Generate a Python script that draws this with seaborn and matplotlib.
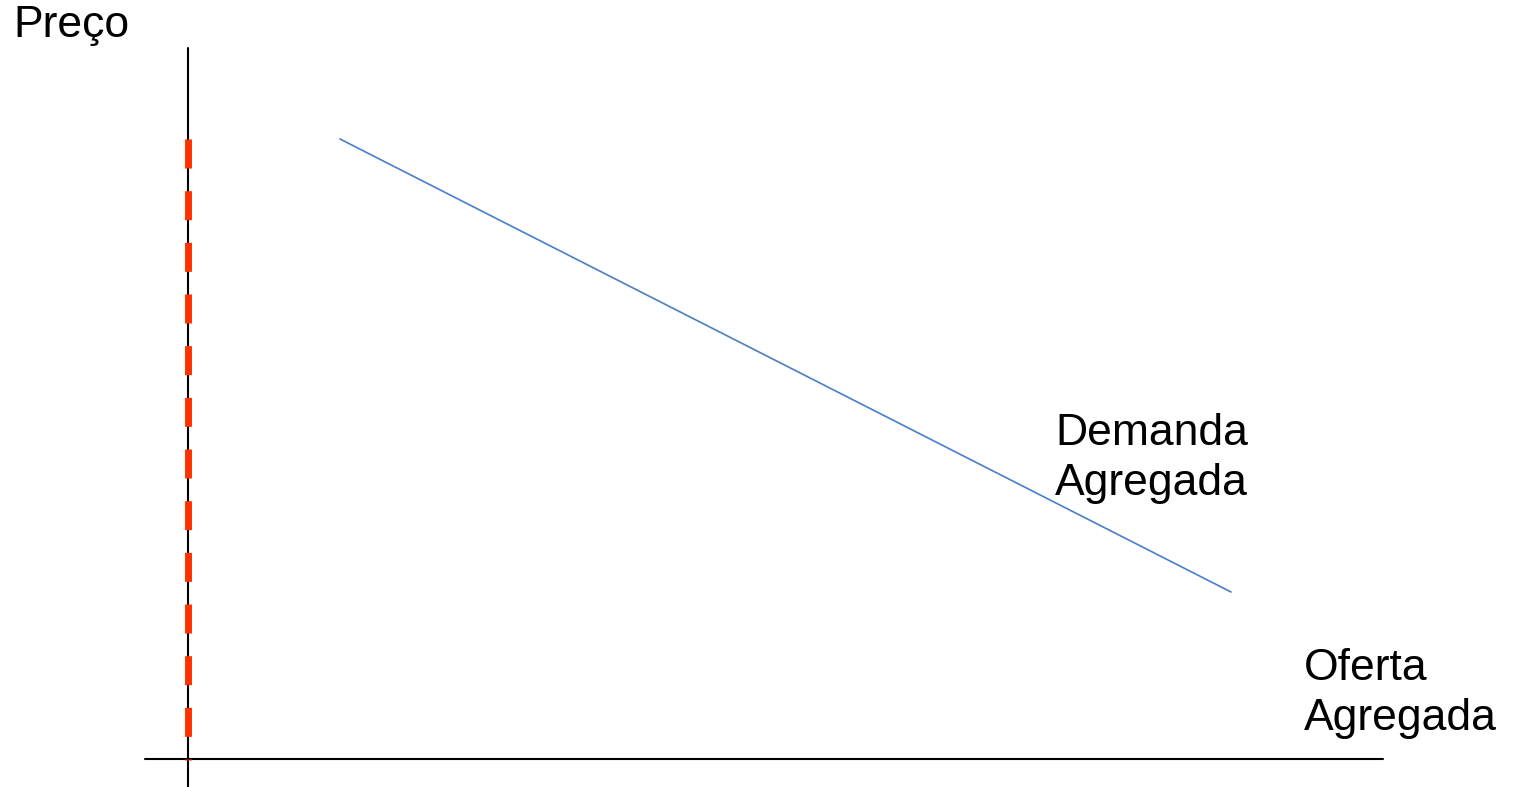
import matplotlib
matplotlib.use("Agg")
import matplotlib.pyplot as plt
import seaborn as sns
import pandas as pd

# curves (quantity, price)
demand_q = [1.52, 10.43]
demand_p = [6.20, 1.67]
supply_q = [0.0, 0.0]
supply_p = [6.20, -0.01]

# axis extents
x_axis_q = [-0.43, 11.95]
x_axis_p = [0.0, 0.0]
y_axis_q = [0.0, 0.0]
y_axis_p = [-0.28, 7.11]

sns.set_style("white")
plt.rcParams['font.family'] = ['Liberation Sans', 'DejaVu Sans']

fig = plt.figure(figsize=(15.18, 7.87), dpi=100)
ax = fig.add_axes([0, 0, 1, 1])

# axes drawn as plain lines (estimator=None so vertical lines are not aggregated)
sns.lineplot(x=x_axis_q, y=x_axis_p, ax=ax, color='black', linewidth=1.5,
             sort=False, estimator=None)
sns.lineplot(x=y_axis_q, y=y_axis_p, ax=ax, color='black', linewidth=1.5,
             sort=False, estimator=None)

supply = pd.DataFrame({'q': supply_q, 'p': supply_p})
sns.lineplot(data=supply, x='q', y='p', ax=ax, color='#FF3300', linewidth=5.0,
             sort=False, estimator=None, linestyle=(0, (4.18, 3.26)),
             dash_capstyle='butt')

demand = pd.DataFrame({'q': demand_q, 'p': demand_p})
sns.lineplot(data=demand, x='q', y='p', ax=ax, color='#4A7EC7', linewidth=1.2,
             sort=False, estimator=None)

fs = 32
kw = dict(fontsize=fs, ha='left', va='baseline', color='black')
ax.text(-1.75, 7.22, 'Preço', **kw)
ax.text(8.67, 3.14, 'Demanda', **kw)
ax.text(8.67, 2.64, 'Agregada', **kw)
ax.text(11.16, 0.79, 'Oferta', **kw)
ax.text(11.16, 0.29, 'Agregada', **kw)

ax.set_xlim(-1.88, 13.30)
ax.set_ylim(-0.28, 7.59)
ax.axis('off')

fig.savefig('out.png', dpi=100)
